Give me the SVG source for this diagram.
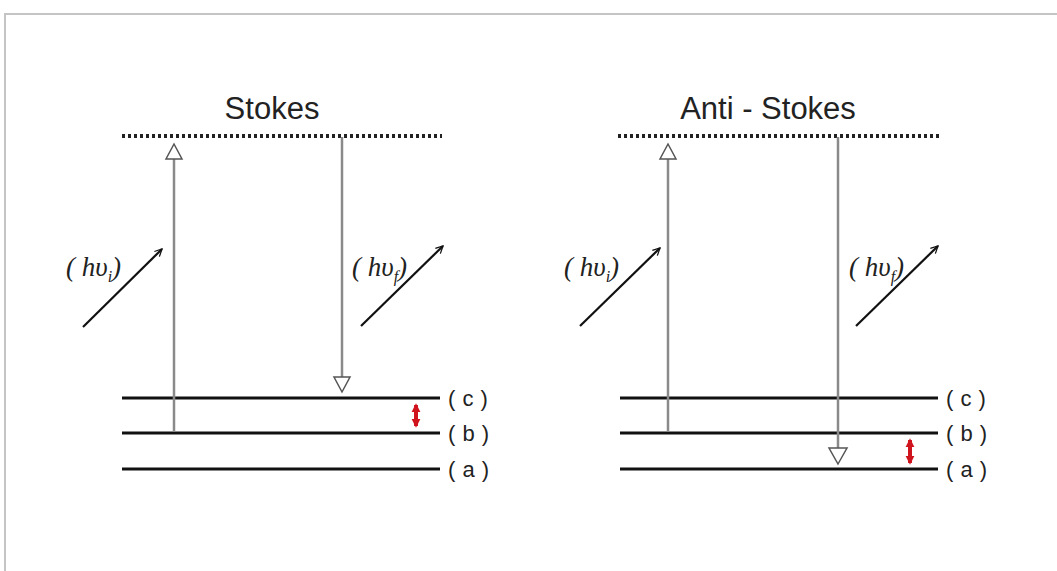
<svg xmlns="http://www.w3.org/2000/svg" width="1057" height="571" viewBox="0 0 1057 571">
<style>
.frame{stroke:#c4c4c4;stroke-width:2;fill:none}
.dots{stroke:#222;stroke-width:4;stroke-dasharray:3 3;fill:none}
.title{font-family:"Liberation Sans",Arial,sans-serif;font-size:31px;fill:#222;text-anchor:middle}
.level{stroke:#111;stroke-width:3.2}
.lab{font-family:"Liberation Sans",Arial,sans-serif;font-size:22px;fill:#222;letter-spacing:0.5px}
.tr{stroke:#8a8a8a;stroke-width:2.5;fill:none}
.head{stroke:#555;stroke-width:1.5;fill:#fff}
.ph{stroke:#111;stroke-width:2.2;fill:none}
.phl{font-family:"Liberation Serif","Times New Roman",serif;font-style:italic;font-size:27px;fill:#222}
.red{stroke:#d0141e;stroke-width:4}
</style>
<defs>
<marker id="ph" viewBox="0 0 10 10" refX="9" refY="5" markerWidth="9" markerHeight="9" orient="auto" markerUnits="userSpaceOnUse">
<path d="M1,1 L9,5 L1,9" fill="none" stroke="#111" stroke-width="1.4"/>
</marker>
<marker id="rd" viewBox="0 0 10 10" refX="8" refY="5" markerWidth="9" markerHeight="10" orient="auto-start-reverse" markerUnits="userSpaceOnUse">
<path d="M0,0 L10,5 L0,10 Z" fill="#d0141e"/>
</marker>
</defs>
<rect width="1057" height="571" fill="#fff"/>
<path class="frame" d="M5,571 L5,14 L1057,14"/>

<g id="stokes">
<text class="title" x="272" y="119">Stokes</text>
<line class="dots" x1="122" y1="136" x2="442" y2="136"/>
<g id="stokes-levels">
<line class="level" x1="122" y1="398" x2="440" y2="398"/>
<line class="level" x1="122" y1="433" x2="440" y2="433"/>
<line class="level" x1="122" y1="469" x2="440" y2="469"/>
<text class="lab" x="448" y="406">( c )</text>
<text class="lab" x="448" y="441">( b )</text>
<text class="lab" x="448" y="477">( a )</text>
</g>
<text class="phl" x="66" y="276">( hυ<tspan font-size="16" dy="6">i</tspan><tspan dy="-6">)</tspan></text>
<text class="phl" x="352" y="276">( hυ<tspan font-size="16" dy="6">f</tspan><tspan dy="-6">)</tspan></text>
</g>

<g id="anti-stokes">
<text class="title" x="768" y="119">Anti - Stokes</text>
<line class="dots" x1="618" y1="136" x2="940" y2="136"/>
<g id="anti-levels">
<line class="level" x1="620" y1="398" x2="938" y2="398"/>
<line class="level" x1="620" y1="433" x2="938" y2="433"/>
<line class="level" x1="620" y1="469" x2="938" y2="469"/>
<text class="lab" x="946" y="406">( c )</text>
<text class="lab" x="946" y="441">( b )</text>
<text class="lab" x="946" y="477">( a )</text>
</g>
<text class="phl" x="564" y="276">( hυ<tspan font-size="16" dy="6">i</tspan><tspan dy="-6">)</tspan></text>
<text class="phl" x="849" y="276">( hυ<tspan font-size="16" dy="6">f</tspan><tspan dy="-6">)</tspan></text>
</g>

<g id="connectors">
<line class="tr" x1="174" y1="432" x2="174" y2="159"/>
<path class="head" d="M174,144 L182,159 L166,159 Z"/>
<line class="tr" x1="342" y1="137" x2="342" y2="377"/>
<path class="head" d="M342,392 L350,377 L334,377 Z"/>
<line class="tr" x1="668" y1="432" x2="668" y2="159"/>
<path class="head" d="M668,144 L676,159 L660,159 Z"/>
<line class="tr" x1="838" y1="137" x2="838" y2="448"/>
<path class="head" d="M838,464 L847,448 L829,448 Z"/>
<line class="ph" x1="83" y1="327" x2="162" y2="249" marker-end="url(#ph)"/>
<line class="ph" x1="361" y1="326" x2="443" y2="246" marker-end="url(#ph)"/>
<line class="ph" x1="580" y1="326" x2="660" y2="248" marker-end="url(#ph)"/>
<line class="ph" x1="856" y1="326" x2="938" y2="246" marker-end="url(#ph)"/>
<line class="red" x1="416" y1="405" x2="416" y2="426" marker-start="url(#rd)" marker-end="url(#rd)"/>
<line class="red" x1="910" y1="440" x2="910" y2="463" marker-start="url(#rd)" marker-end="url(#rd)"/>
</g>
</svg>
